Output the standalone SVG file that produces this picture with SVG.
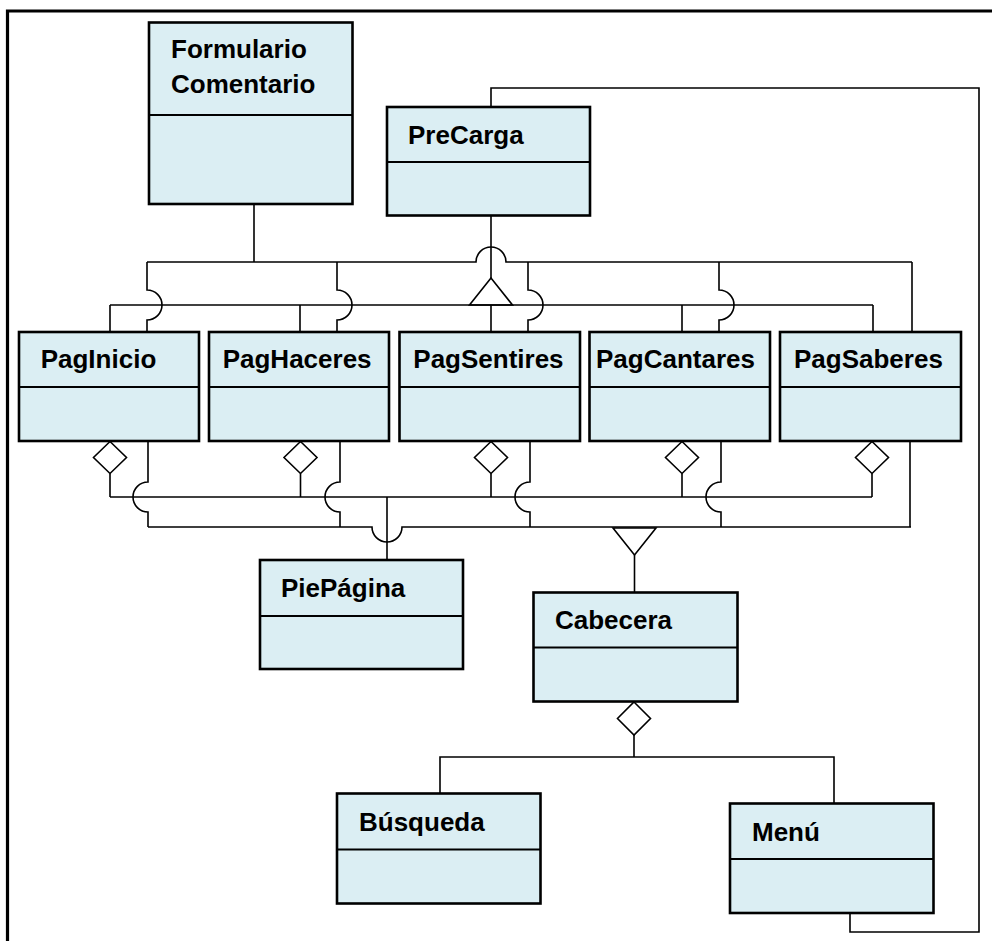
<svg xmlns="http://www.w3.org/2000/svg" width="992" height="941" viewBox="0 0 992 941">
  <style>
    .box rect { fill: #DBEEF3; stroke: #000; stroke-width: 2.6; }
    .box line { stroke: #000; stroke-width: 2; }
    .box text { font-family: "Liberation Sans", Arial, sans-serif; font-weight: bold; font-size: 26px; fill: #000; }
    .conn path, .conn line { fill: none; stroke: #000; stroke-width: 1.6; }
    .conn .head { fill: #fff; stroke: #000; stroke-width: 1.6; }
    .frame { fill: none; stroke: #000; stroke-width: 3.2; }
  </style>
  <rect x="0" y="0" width="992" height="941" fill="#fff"/>
  <path class="frame" d="M7.5,941 V11 H992"/>

  <!-- connectors -->
  <g id="connectors" class="conn">
    <!-- FormularioComentario association to the five pages -->
    <path d="M254,204 V262"/>
    <path d="M147,262 H476 A15,15 0 0 1 506,262 H912"/>
    <path d="M147,262 V290 A15,15 0 0 1 147,320 V332"/>
    <path d="M337,262 V290 A15,15 0 0 1 337,320 V332"/>
    <path d="M528,262 V290 A15,15 0 0 1 528,320 V332"/>
    <path d="M719,262 V290 A15,15 0 0 1 719,320 V332"/>
    <path d="M912,262 V332"/>

    <!-- PreCarga generalization -->
    <path d="M491,215.5 V278"/>
    <path class="head" d="M491,278 L469.5,305 L512.5,305 Z"/>
    <path d="M110,305 H873"/>
    <path d="M110,305 V332 M300,305 V332 M491,305 V332 M682,305 V332 M873,305 V332"/>

    <!-- PreCarga to Menú -->
    <path d="M491,107 V88 H979 V932 H850 V913"/>

    <!-- PiePágina aggregation -->
    <path class="head" d="M110,441.5 L126.5,457.5 L110,473.5 L93.5,457.5 Z"/>
    <path class="head" d="M300.5,441.5 L317,457.5 L300.5,473.5 L284,457.5 Z"/>
    <path class="head" d="M491,441.5 L507.5,457.5 L491,473.5 L474.5,457.5 Z"/>
    <path class="head" d="M682,441.5 L698.5,457.5 L682,473.5 L665.5,457.5 Z"/>
    <path class="head" d="M872,441.5 L888.5,457.5 L872,473.5 L855.5,457.5 Z"/>
    <path d="M110,473.5 V497 M300.5,473.5 V497 M491,473.5 V497 M682,473.5 V497 M872,473.5 V497"/>
    <path d="M110,497 H872"/>
    <path d="M387,497 V560"/>

    <!-- Cabecera generalization -->
    <path d="M148,441 V482 A15,15 0 0 0 148,512 V527"/>
    <path d="M340,441 V482 A15,15 0 0 0 340,512 V527"/>
    <path d="M530,441 V482 A15,15 0 0 0 530,512 V527"/>
    <path d="M721,441 V482 A15,15 0 0 0 721,512 V527"/>
    <path d="M910,441 V527"/>
    <path d="M148,527 H372 A15,15 0 0 0 402,527 H911"/>
    <path class="head" d="M613,528 L656,528 L634.5,555 Z"/>
    <path d="M634.5,555 V592.5"/>

    <!-- Cabecera aggregation -->
    <path class="head" d="M634,702 L650.5,718.5 L634,735 L617.5,718.5 Z"/>
    <path d="M634,735 V757"/>
    <path d="M440,793.5 V757 H834 V803.5"/>
  </g>

  <!-- classes -->
  <g id="FormularioComentario" class="box">
    <rect x="149" y="22.5" width="203.5" height="181.5"/>
    <line x1="149" y1="115" x2="352.5" y2="115"/>
    <text x="171" y="58">Formulario</text>
    <text x="171" y="93">Comentario</text>
  </g>
  <g id="PreCarga" class="box">
    <rect x="387" y="107" width="203" height="108.5"/>
    <line x1="387" y1="162" x2="590" y2="162"/>
    <text x="408" y="144">PreCarga</text>
  </g>
  <g id="PagInicio" class="box">
    <rect x="19" y="332" width="180" height="109"/>
    <line x1="19" y1="387" x2="199" y2="387"/>
    <text x="40.7" y="368">PagInicio</text>
  </g>
  <g id="PagHaceres" class="box">
    <rect x="209" y="332" width="180" height="109"/>
    <line x1="209" y1="387" x2="389" y2="387"/>
    <text x="222.7" y="368">PagHaceres</text>
  </g>
  <g id="PagSentires" class="box">
    <rect x="399.5" y="332" width="180.5" height="109"/>
    <line x1="399.5" y1="387" x2="580" y2="387"/>
    <text x="413.3" y="368">PagSentires</text>
  </g>
  <g id="PagCantares" class="box">
    <rect x="589.5" y="332" width="180.5" height="109"/>
    <line x1="589.5" y1="387" x2="770" y2="387"/>
    <text x="596" y="368">PagCantares</text>
  </g>
  <g id="PagSaberes" class="box">
    <rect x="780" y="332" width="181" height="109"/>
    <line x1="780" y1="387" x2="961" y2="387"/>
    <text x="794" y="368">PagSaberes</text>
  </g>
  <g id="PiePagina" class="box">
    <rect x="260" y="560" width="203" height="109"/>
    <line x1="260" y1="616" x2="463" y2="616"/>
    <text x="281" y="597">PiePágina</text>
  </g>
  <g id="Cabecera" class="box">
    <rect x="533.5" y="592.5" width="204" height="109"/>
    <line x1="533.5" y1="647.5" x2="737.5" y2="647.5"/>
    <text x="555" y="629">Cabecera</text>
  </g>
  <g id="Busqueda" class="box">
    <rect x="337" y="793.5" width="203.5" height="110"/>
    <line x1="337" y1="849.5" x2="540.5" y2="849.5"/>
    <text x="359" y="831">Búsqueda</text>
  </g>
  <g id="Menu" class="box">
    <rect x="730" y="803.5" width="203.5" height="109.5"/>
    <line x1="730" y1="859" x2="933.5" y2="859"/>
    <text x="752" y="840.5">Menú</text>
  </g>
</svg>
